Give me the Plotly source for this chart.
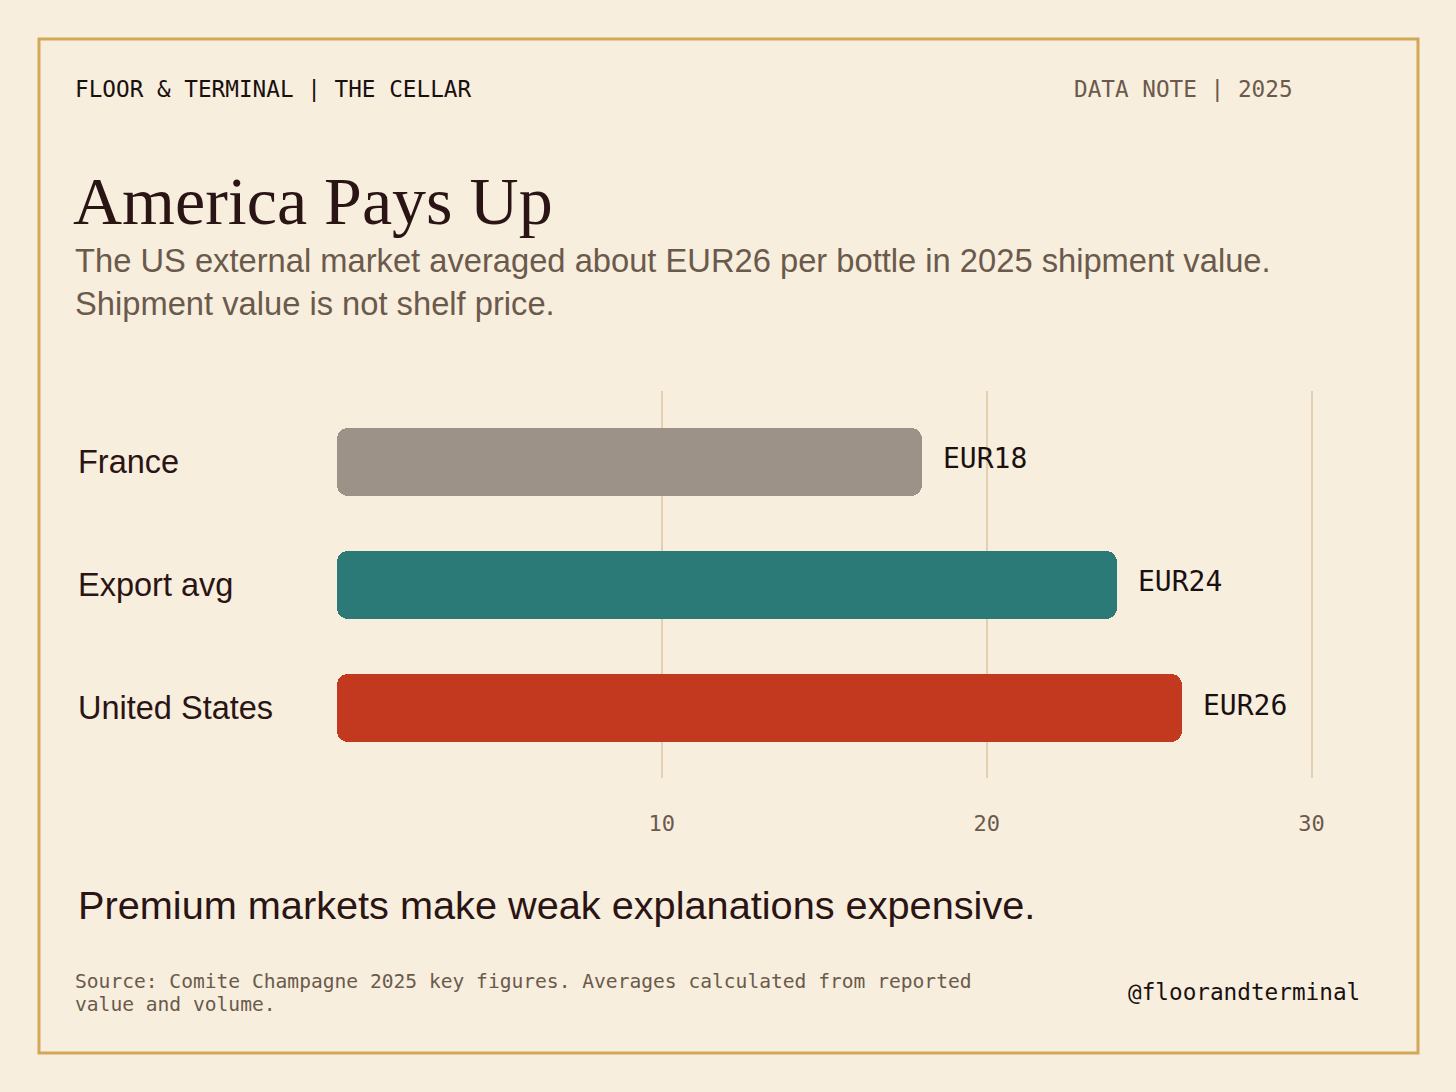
import plotly.graph_objects as go

# Data
markets = ["France", "Export avg", "United States"]
eur_per_bottle = [18, 24, 26]
bar_colors = ["#9C9287", "#2C7A78", "#C2391F"]
tick_vals = [10, 20, 30]
tick_text = ["10", "20", "30"]

BG = "#F7EEDE"
GOLD = "#D4A658"
INK = "#2A1414"
MUTED = "#6B5A4C"
MONO = "DejaVu Sans Mono"
SANS = "Liberation Sans"
SERIF = "Liberation Serif"

# Canvas / plot-area geometry (pixels)
WIDTH, HEIGHT = 1456, 1092
L, R, T, B = 337, 112, 391, 314
PW = WIDTH - L - R
PH = HEIGHT - T - B


def px(x):
    return (x - L) / PW


def py(y):
    return (HEIGHT - B - y) / PH


fig = go.Figure()

# Each bar is drawn as two overlapping halves so both ends get rounded corners
left_base = [v * 0.6 for v in eur_per_bottle]
left_len = [-v * 0.6 for v in eur_per_bottle]
right_base = [v * 0.4 for v in eur_per_bottle]
right_len = [v * 0.6 for v in eur_per_bottle]

for base, length in [(left_base, left_len), (right_base, right_len)]:
    fig.add_trace(go.Bar(
        y=markets, x=length, base=base, orientation="h",
        width=0.56,
        marker=dict(color=bar_colors, cornerradius=11, line=dict(width=0)),
        hoverinfo="skip", showlegend=False,
    ))

annotations = []

# Value labels at the bar ends, category names on the left
for m, v in zip(markets, eur_per_bottle):
    annotations.append(dict(
        x=v, y=m, xref="x", yref="y", text=f"EUR{v}", showarrow=False,
        xanchor="left", yanchor="middle", xshift=19, yshift=3,
        font=dict(family=MONO, size=28, color="#1A1010"),
    ))
    annotations.append(dict(
        x=px(76), y=m, xref="paper", yref="y", text=m, showarrow=False,
        xanchor="left", yanchor="middle",
        font=dict(family=SANS, size=32.5, color=INK),
    ))


def note(x, y, text, font, anchor="left"):
    annotations.append(dict(
        x=px(x), y=py(y), xref="paper", yref="paper", text=text,
        showarrow=False, xanchor=anchor, yanchor="middle", font=font,
    ))


note(73, 89, "FLOOR &amp; TERMINAL | THE CELLAR", dict(family=MONO, size=22.7, color="#1A1010"))
note(1072, 89, "DATA NOTE | 2025", dict(family=MONO, size=22.7, color=MUTED))
note(71, 201, "America Pays Up", dict(family=SERIF, size=68, color=INK))
note(73, 260, "The US external market averaged about EUR26 per bottle in 2025 shipment value.",
     dict(family=SANS, size=32.7, color=MUTED))
note(73, 303, "Shipment value is not shelf price.", dict(family=SANS, size=32.7, color=MUTED))
note(76, 905, "Premium markets make weak explanations expensive.",
     dict(family=SANS, size=39.7, color=INK))
note(73, 981, "Source: Comite Champagne 2025 key figures. Averages calculated from reported",
     dict(family=MONO, size=19.6, color=MUTED))
note(73, 1004, "value and volume.", dict(family=MONO, size=19.6, color=MUTED))
note(1126, 992, "@floorandterminal", dict(family=MONO, size=22.7, color="#1A1010"))

fig.update_layout(
    width=WIDTH, height=HEIGHT,
    paper_bgcolor=BG, plot_bgcolor=BG,
    margin=dict(l=L, r=R, t=T, b=B),
    barmode="overlay",
    bargap=0,
    annotations=annotations,
    shapes=[dict(
        type="rect", xref="paper", yref="paper",
        x0=px(39), x1=px(1418), y0=py(39), y1=py(1053),
        line=dict(color=GOLD, width=3), fillcolor="rgba(0,0,0,0)", layer="below",
    )],
    xaxis=dict(
        range=[0, 31], tickvals=tick_vals, ticktext=tick_text,
        showgrid=True, gridcolor="#E4D0B0", gridwidth=1.5,
        zeroline=False, showline=False, ticks="",
        ticklabelstandoff=30,
        tickfont=dict(family=MONO, size=22, color=MUTED),
        fixedrange=True,
    ),
    yaxis=dict(
        categoryorder="array", categoryarray=markets,
        range=[2.569, -0.577], showticklabels=False,
        showgrid=False, zeroline=False, showline=False, fixedrange=True,
    ),
)

fig.write_html(
    "out.html",
    config={"displayModeBar": False},
    post_script="document.body.style.margin='0';document.body.style.background='" + BG + "';",
)
